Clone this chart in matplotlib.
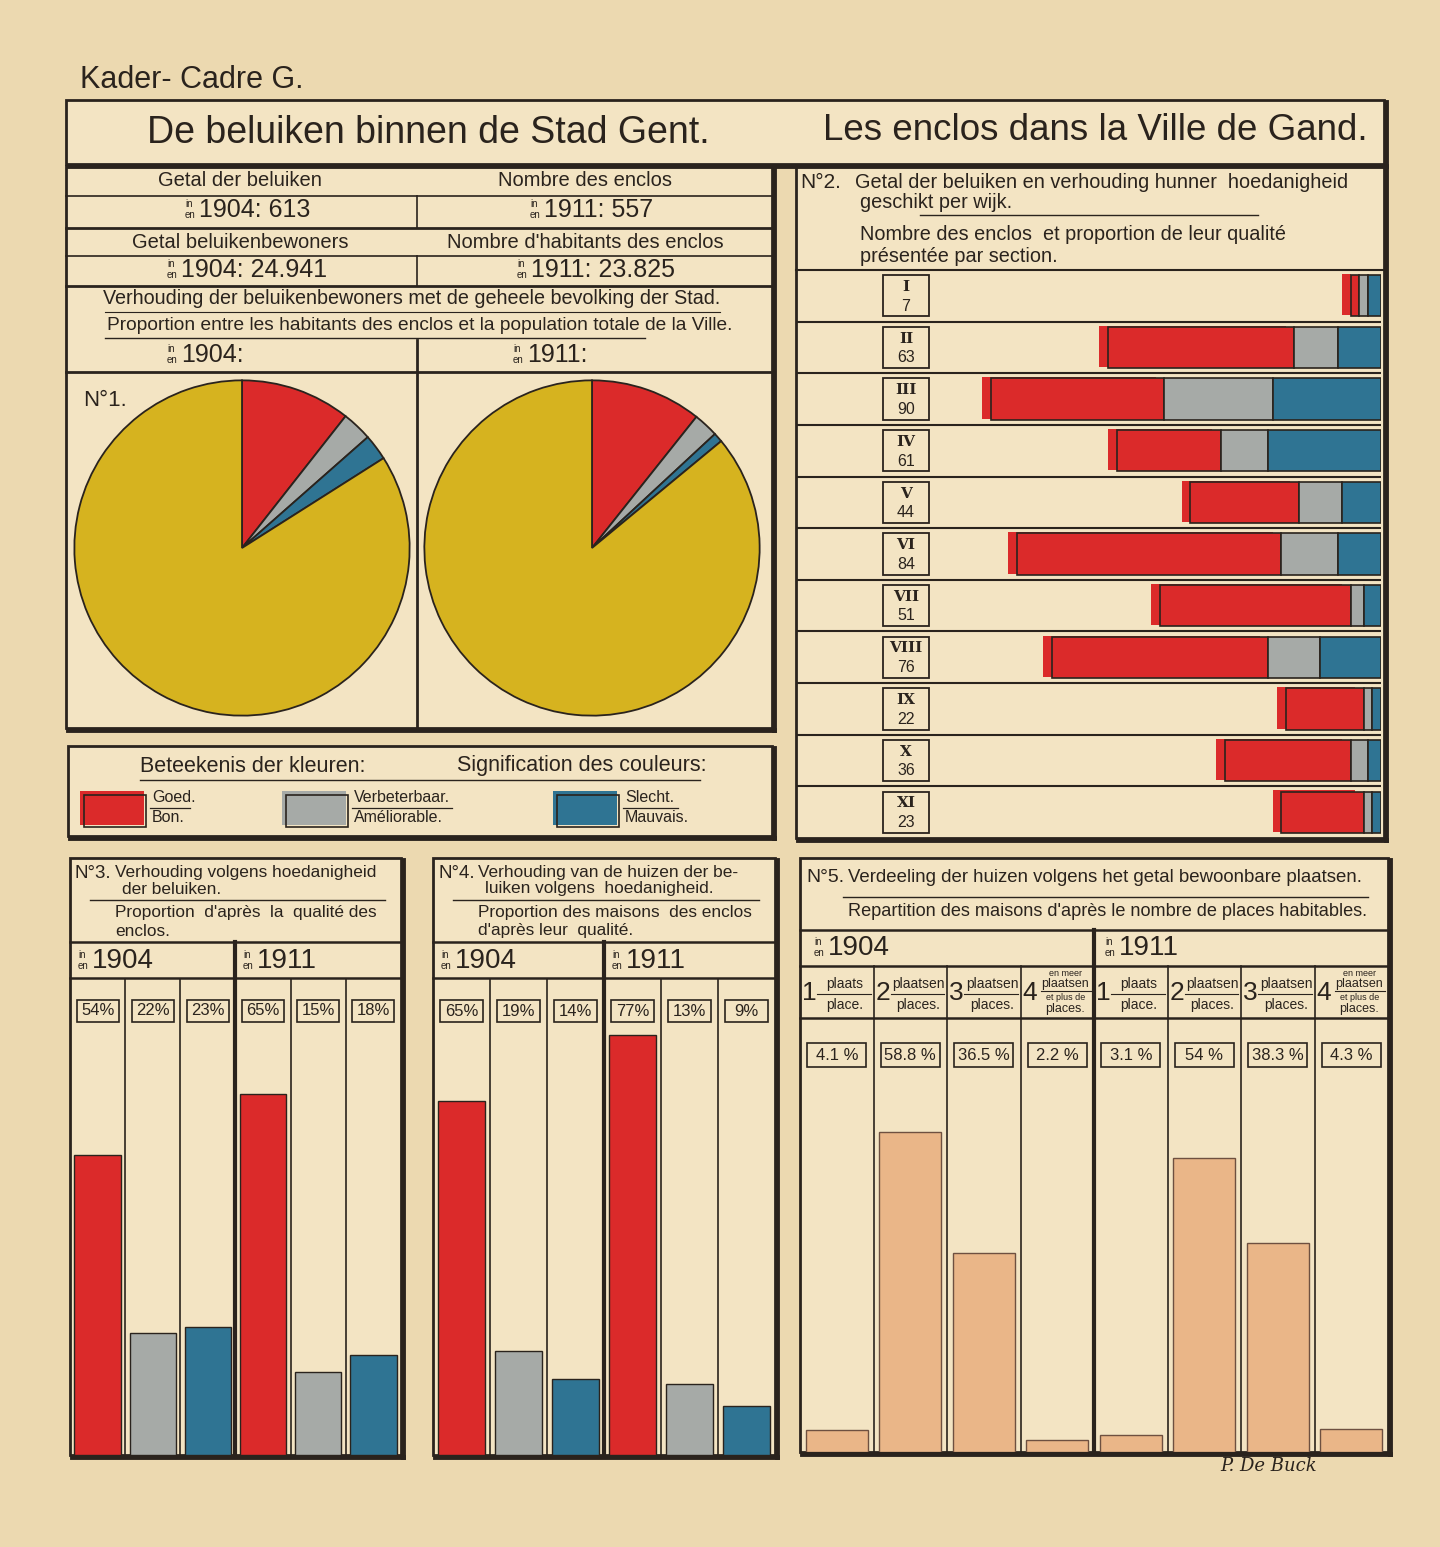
import matplotlib
matplotlib.use("Agg")
import matplotlib.pyplot as plt
from matplotlib.patches import Rectangle
from matplotlib.transforms import blended_transform_factory

W, H = 1440, 1547

# ---- data ----
wards = ["I", "II", "III", "IV", "V", "VI", "VII", "VIII", "IX", "X", "XI"]
ward_total = [7, 63, 90, 61, 44, 84, 51, 76, 22, 36, 23]
ward_good = [2, 43, 40, 24, 25, 61, 44, 50, 18, 29, 19]
ward_fair = [2, 10, 25, 11, 10, 13, 3, 12, 2, 4, 2]
ward_bad = [3, 10, 25, 26, 9, 10, 4, 14, 2, 3, 2]

# share of the town population (good, improvable, bad, rest)
pie_1904 = [10.6, 2.9, 2.5, 84.0]
pie_1911 = [10.7, 2.4, 0.9, 86.0]

n3_1904 = [54, 22, 23]
n3_1911 = [65, 15, 18]
n4_1904 = [65, 19, 14]
n4_1911 = [77, 13, 9]
n5_1904 = [4.1, 58.8, 36.5, 2.2]
n5_1911 = [3.1, 54, 38.3, 4.3]
n5_top = ["plaats", "plaatsen", "plaatsen", "plaatsen"]
n5_bottom = ["place.", "places.", "places.", "places."]

PAPER = "#ecd9b0"
PANEL = "#f3e4c3"
INK = "#2a231d"
RED = "#db2a2a"
GREY = "#a6aaa7"
BLUE = "#2f7493"
YELLOW = "#d6b31f"
ORANGE = "#eab688"

plt.rcParams["font.family"] = ["Liberation Sans", "DejaVu Sans"]

fig = plt.figure(figsize=(W / 100, H / 100), dpi=100, facecolor=PAPER)
base = fig.add_axes([0, 0, 1, 1])
base.set_xlim(0, W)
base.set_ylim(H, 0)
base.axis("off")


def sub(x0, y0, x1, y1):
    ax = fig.add_axes([x0 / W, 1 - y1 / H, (x1 - x0) / W, (y1 - y0) / H])
    ax.set_facecolor("none")
    for s in ax.spines.values():
        s.set_visible(False)
    ax.set_xticks([])
    ax.set_yticks([])
    return ax


def box(x0, y0, x1, y1, lw=2.0, fill=PANEL):
    base.add_patch(Rectangle((x0, y0), x1 - x0, y1 - y0, fc=fill, ec=INK, lw=lw, zorder=1))
    # heavier right / bottom edge like the printed shadow
    base.plot([x1 + 1.5, x1 + 1.5], [y0 + 2, y1 + 1.5], color=INK, lw=lw + 1.5, zorder=2)
    base.plot([x0 + 2, x1 + 1.5], [y1 + 1.5, y1 + 1.5], color=INK, lw=lw + 1.5, zorder=2)


def hl(x0, x1, y, lw=1.2):
    base.plot([x0, x1], [y, y], color=INK, lw=lw, zorder=3)


def vl(x, y0, y1, lw=1.2):
    base.plot([x, x], [y0, y1], color=INK, lw=lw, zorder=3)


def t(x, y, s, size=12, ha="left", **kw):
    base.text(x, y, s, fontsize=size, ha=ha, va="center", color=INK, zorder=4, **kw)


def year(x, y, s, size=18):
    t(x, y - 6, "in", 7)
    t(x, y + 5, "en", 7)
    t(x + 14, y, s, size)


# ---- heading ----
t(80, 80, "Kader- Cadre G.", 22)
box(66, 100, 1384, 164)
t(428, 133, "De beluiken binnen de Stad Gent.", 27, ha="center")
t(1095, 131, "Les enclos dans la Ville de Gand.", 26.5, ha="center")

# ---- left info box + pies ----
box(66, 166, 772, 728)
hl(66, 772, 196)
vl(417, 196, 228)
hl(66, 772, 228, 2)
hl(66, 772, 256)
vl(417, 256, 286)
hl(66, 772, 286, 2)
vl(417, 340, 728, 2)
hl(66, 772, 372, 2)
hl(105, 645, 338, 1)
hl(105, 720, 312, 0.8)

t(240, 181, "Getal der beluiken", 14.5, ha="center")
t(585, 181, "Nombre des enclos", 14.5, ha="center")
year(185, 210, "1904: 613")
year(530, 210, "1911: 557")
t(240, 242, "Getal beluikenbewoners", 14.5, ha="center")
t(585, 242, "Nombre d'habitants des enclos", 14.5, ha="center")
year(167, 270, "1904: 24.941")
year(517, 270, "1911: 23.825")
t(412, 299, "Verhouding der beluikenbewoners met de geheele bevolking der Stad.", 14.2, ha="center")
t(420, 325, "Proportion entre les habitants des enclos et la population totale de la Ville.", 13.8, ha="center")
year(167, 355, "1904:")
year(513, 355, "1911:")
t(83, 400, "N°1.", 16)

pie_colors = [RED, GREY, BLUE, YELLOW]
for (x0, x1), vals in [((71, 413), pie_1904), ((421, 763), pie_1911)]:
    ax = sub(x0, 377, x1, 719)
    ax.pie(vals, colors=pie_colors, startangle=90, counterclock=False,
           wedgeprops=dict(edgecolor=INK, linewidth=1.3))
    ax.set_xlim(-1.02, 1.02)
    ax.set_ylim(-1.02, 1.02)

# ---- colour legend ----
box(68, 746, 772, 836)
t(140, 766, "Beteekenis der kleuren:", 15.5)
t(457, 766, "Signification des couleurs:", 15.5)
hl(140, 700, 780, 1)
for x, c, nl, fr in [(80, RED, "Goed.", "Bon."),
                     (282, GREY, "Verbeterbaar.", "Améliorable."),
                     (553, BLUE, "Slecht.", "Mauvais.")]:
    base.add_patch(Rectangle((x, 791), 64, 34, fc=c, ec="none", zorder=3))
    base.add_patch(Rectangle((x + 4, 795), 62, 32, fc="none", ec=INK, lw=1.2, zorder=4))
    t(x + 72, 798, nl, 11.5)
    t(x + 72, 818, fr, 11.5)
    hl(x + 70, x + 72 + 7.5 * len(nl), 808, 0.9)

# ---- N°2 : wards ----
box(796, 166, 1384, 838)
t(800, 182, "N°2.", 15)
t(855, 182, "Getal der beluiken en verhouding hunner  hoedanigheid", 14.3)
t(860, 203, "geschikt per wijk.", 14.3)
hl(920, 1258, 215, 1)
t(860, 235, "Nombre des enclos  et proportion de leur qualité", 14.3)
t(860, 256, "présentée par section.", 14.3)
hl(796, 1384, 270, 1.5)

ax2 = sub(796, 270, 1381, 838)
ax2.set_xlim(-135, 0)
ax2.set_ylim(len(wards) - 0.5, -0.5)
rows = range(len(wards))
lefts_fair = [-(b + f) for b, f in zip(ward_bad, ward_fair)]
ax2.barh([r - 0.02 for r in rows], ward_good, left=[-n - 2 for n in ward_total],
         height=0.8, color=RED, lw=0, zorder=1)
ax2.barh(rows, ward_good, left=[-n for n in ward_total], height=0.8,
         color=RED, edgecolor=INK, lw=1.2, zorder=2)
ax2.barh(rows, ward_fair, left=lefts_fair, height=0.8,
         color=GREY, edgecolor=INK, lw=1.2, zorder=2)
ax2.barh(rows, ward_bad, left=[-b for b in ward_bad], height=0.8,
         color=BLUE, edgecolor=INK, lw=1.2, zorder=2)
for r in list(rows)[:-1]:
    ax2.axhline(r + 0.5, color=INK, lw=1.5, zorder=3)
bt = blended_transform_factory(ax2.transAxes, ax2.transData)
for r, name, n in zip(rows, wards, ward_total):
    ax2.add_patch(Rectangle((0.149, r - 0.4), 0.078, 0.8, transform=bt,
                            fc="none", ec=INK, lw=1.3, zorder=3))
    ax2.text(0.188, r - 0.17, name, transform=bt, ha="center", va="center",
             fontsize=11, family="DejaVu Serif", weight="bold", color=INK)
    ax2.text(0.188, r + 0.2, str(n), transform=bt, ha="center", va="center",
             fontsize=11.5, color=INK)

# ---- N°3 and N°4 : quality shares ----
panels = [
    (70, 401, 235, n3_1904 + n3_1911, 5.56,
     ["N°3.", "Verhouding volgens hoedanigheid", "der beluiken.",
      "Proportion  d'après  la  qualité des", "enclos."]),
    (433, 775, 604, n4_1904 + n4_1911, 5.45,
     ["N°4.", "Verhouding van de huizen der be-", "luiken volgens  hoedanigheid.",
      "Proportion des maisons  des enclos", "d'après leur  qualité."]),
]
for x0, x1, xmid, vals, scale, lines in panels:
    box(x0, 858, x1, 1455)
    t(x0 + 5, 873, lines[0], 13.5)
    t(x0 + 45, 872, lines[1], 12.4)
    t(x0 + 52, 889, lines[2], 12.4)
    hl(x0 + 20, x1 - 16, 900, 1)
    t(x0 + 45, 913, lines[3], 12.4)
    t(x0 + 45, 931, lines[4], 12.4)
    hl(x0, x1, 942, 1.8)
    year(x0 + 8, 961, "1904", 20)
    year(xmid + 8, 961, "1911", 20)
    hl(x0, x1, 978, 1.8)
    vl(xmid, 942, 1455, 3)

    ax = sub(x0, 978, x1, 1455)
    ax.set_xlim(-0.5, 5.5)
    ax.set_ylim(0, 477 / scale)
    ax.bar(range(6), vals, width=0.84, color=[RED, GREY, BLUE] * 2,
           edgecolor=INK, lw=1.0, zorder=2)
    for k in [0.5, 1.5, 3.5, 4.5]:
        ax.axvline(k, color=INK, lw=1.2, zorder=1)
    yb = (1455 - 1011) / scale
    for i, v in enumerate(vals):
        ax.add_patch(Rectangle((i - 0.38, yb - 11 / scale), 0.76, 22 / scale,
                               fc="none", ec=INK, lw=1.2, zorder=3))
        ax.text(i, yb, f"{v}%", ha="center", va="center", fontsize=12, color=INK)

# ---- N°5 : habitable places ----
box(800, 858, 1388, 1452)
t(806, 877, "N°5.", 14)
t(848, 877, "Verdeeling der huizen volgens het getal bewoonbare plaatsen.", 13.4)
hl(843, 1368, 897, 1)
t(848, 912, "Repartition des maisons d'après le nombre de places habitables.", 13.1)
hl(800, 1388, 930, 1.8)
year(814, 948, "1904", 20)
year(1105, 948, "1911", 20)
hl(800, 1388, 966, 1.8)
hl(800, 1388, 1018, 1.8)
vl(1094, 930, 1452, 3)

ax5 = sub(800, 1018, 1388, 1452)
ax5.set_xlim(-0.5, 7.5)
ax5.set_ylim(0, 434 / 5.45)
vals5 = n5_1904 + n5_1911
ax5.bar(range(8), vals5, width=0.84, color=ORANGE, edgecolor="#6e5040", lw=1.0, zorder=2)
for k in [0.5, 1.5, 2.5, 4.5, 5.5, 6.5]:
    ax5.axvline(k, color=INK, lw=1.2, zorder=1)
yb5 = (1452 - 1055) / 5.45
for i, v in enumerate(vals5):
    ax5.add_patch(Rectangle((i - 0.4, yb5 - 12 / 5.45), 0.8, 24 / 5.45,
                            fc="none", ec=INK, lw=1.2, zorder=3))
    ax5.text(i, yb5, f"{v} %", ha="center", va="center", fontsize=12, color=INK)

colw = (1388 - 800) / 8
for i in range(8):
    k = i % 4
    cx = 800 + i * colw
    if i not in (0, 4):
        vl(cx, 966, 1018)
    t(cx + 2, 993, str(k + 1), 19)
    if k == 3:
        t(cx + 45, 973, "en meer", 6.5, ha="center")
        t(cx + 45, 984, n5_top[k], 9, ha="center")
        hl(cx + 20, cx + colw - 3, 991, 0.8)
        t(cx + 45, 998, "et plus de", 6.5, ha="center")
        t(cx + 45, 1009, n5_bottom[k], 9, ha="center")
    else:
        t(cx + 45, 984, n5_top[k], 10, ha="center")
        hl(cx + 17, cx + colw - 3, 994, 0.8)
        t(cx + 45, 1005, n5_bottom[k], 10, ha="center")

t(1220, 1466, "P. De Buck", 13, style="italic", family="DejaVu Serif")

plt.savefig("out.png", dpi=100, facecolor=PAPER)
